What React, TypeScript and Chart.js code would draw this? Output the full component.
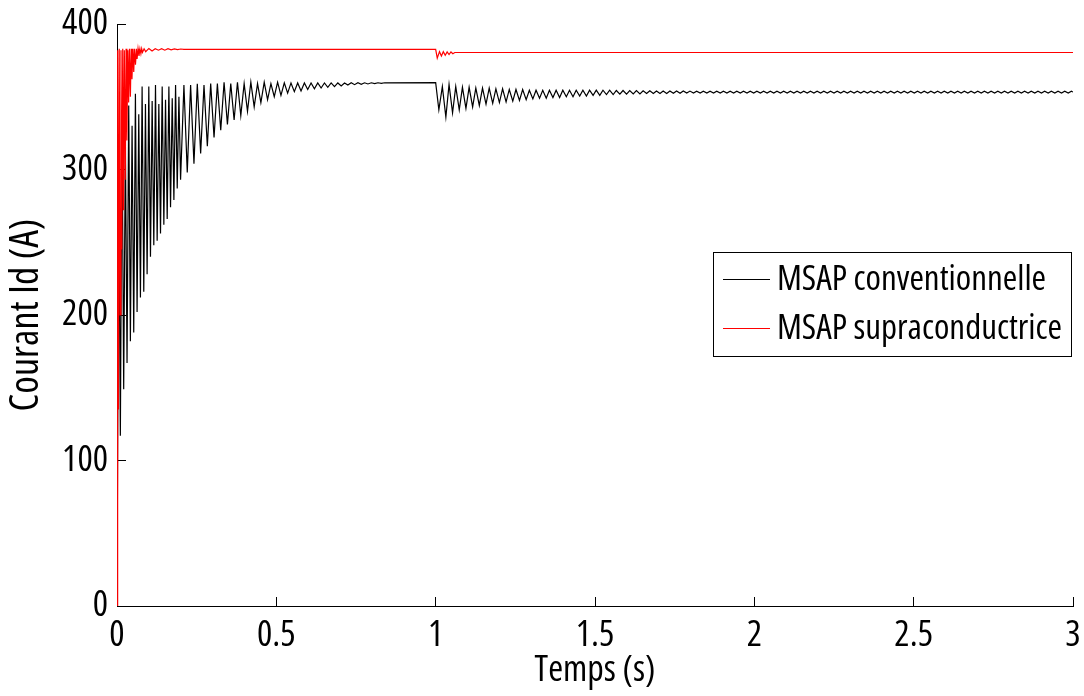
import React, { useEffect, useRef } from "react";
import { Chart, registerables } from "chart.js";

Chart.register(...registerables);

const FONT = "'Open Sans', 'DejaVu Sans Condensed', sans-serif";
const STRETCH = "normal condensed";

const seriesLabels = ["MSAP conventionnelle", "MSAP supraconductrice"];
const seriesColors = ["#000000", "#ff0000"];
const xTickValues = [0, 0.5, 1, 1.5, 2, 2.5, 3];
const yTickValues = [0, 100, 200, 300, 400];
const xTitle = "Temps (s)";
const yTitle = "Courant Id (A)";

// Conventional PMSM, [time s, Id A]
const blackStartup: [number, number][] = [
  [0, 0], [0.0053, 300], [0.0105, 117], [0.0158, 335], [0.021, 149], [0.0263, 320], [0.0315, 167],
  [0.0368, 344], [0.042, 182], [0.0473, 330], [0.0525, 188], [0.0578, 352], [0.063, 202], [0.0683, 338],
  [0.0735, 212], [0.0788, 357], [0.084, 216], [0.0893, 345], [0.0945, 228], [0.0998, 357], [0.105, 240],
  [0.1103, 347], [0.1155, 248], [0.1208, 358], [0.126, 251], [0.1313, 345], [0.1365, 256], [0.1418, 357],
  [0.147, 262], [0.1523, 348], [0.1575, 266], [0.1628, 357], [0.168, 274], [0.1733, 349], [0.1785, 279],
  [0.1838, 358], [0.189, 287], [0.1943, 350], [0.1995, 293],
];
const blackSettling: [number, number][] = [
  [0.21, 358], [0.2205, 298], [0.231, 358], [0.2415, 304], [0.252, 359], [0.2625, 311], [0.273, 358],
  [0.2835, 316], [0.294, 359], [0.3045, 322], [0.315, 359], [0.3255, 327], [0.336, 360], [0.3465, 331],
  [0.357, 359], [0.3675, 334], [0.378, 360], [0.3885, 337], [0.399, 359], [0.4095, 340], [0.42, 360],
  [0.4305, 343], [0.441, 359], [0.4515, 346], [0.462, 360], [0.4725, 348], [0.483, 359], [0.4935, 350],
  [0.504, 360], [0.5145, 351], [0.525, 359.5], [0.5355, 352.5], [0.546, 359.5], [0.5565, 353.5],
  [0.567, 359.5], [0.5775, 354], [0.588, 359.5], [0.5985, 355], [0.609, 359.5], [0.6195, 355.5],
  [0.63, 359.5], [0.6405, 356], [0.651, 359.5], [0.6615, 356.5], [0.672, 359.5], [0.6825, 357],
  [0.693, 359.5], [0.7035, 357.5], [0.714, 359.5], [0.7245, 358], [0.735, 359.6], [0.7455, 358.3],
  [0.756, 359.6], [0.7665, 358.6], [0.777, 359.6], [0.7875, 358.8], [0.798, 359.6], [0.8085, 359],
  [0.819, 359.6], [0.8295, 359.2], [0.84, 359.6], [1.0, 359.7],
];
const blackLoadStep: [number, number][] = [
  [1.01, 341], [1.021, 357], [1.032, 336], [1.042, 358.5], [1.053, 339], [1.063, 357], [1.074, 341],
  [1.084, 356.5], [1.095, 342], [1.105, 356.5], [1.116, 343], [1.126, 356], [1.137, 344], [1.147, 356],
  [1.158, 345], [1.168, 356], [1.179, 345.5], [1.189, 355.5], [1.2, 346], [1.21, 355.5], [1.221, 346.5],
  [1.231, 355], [1.242, 347], [1.252, 355], [1.263, 347.5], [1.273, 355], [1.284, 348], [1.294, 354.5],
  [1.305, 348.5], [1.315, 354.5], [1.326, 349], [1.336, 354.5], [1.347, 349], [1.357, 354.5],
  [1.368, 349.5], [1.378, 354.5], [1.389, 349.5], [1.399, 354.5], [1.41, 350], [1.42, 354.5],
  [1.431, 350], [1.441, 354.5], [1.452, 350.5], [1.462, 354.5], [1.473, 350.5], [1.483, 354.5],
  [1.494, 351], [1.504, 354.5], [1.515, 351], [1.525, 354.5], [1.536, 351.5], [1.546, 354.5],
  [1.557, 351.5], [1.567, 354.3], [1.578, 351.8], [1.588, 354.3], [1.599, 351.8], [1.609, 354.2],
  [1.62, 352], [1.63, 354.2], [1.641, 352], [1.651, 354.1], [1.662, 352.2], [1.672, 354.1],
  [1.683, 352.2], [1.693, 354], [1.704, 352.3], [1.714, 354], [1.725, 352.3], [1.735, 354],
  [1.746, 352.4], [1.756, 354], [1.767, 352.4], [1.777, 354], [1.788, 352.5], [1.798, 353.9],
];
const blackSteady: [number, number][] = [
  [1.809, 352.6], [1.819, 353.8], [1.83, 352.6], [1.84, 353.8], [1.851, 352.6], [1.861, 353.8],
  [1.872, 352.6], [1.882, 353.8], [1.893, 352.6], [1.903, 353.8], [1.914, 352.6], [1.924, 353.8],
  [1.935, 352.6], [1.945, 353.8], [1.956, 352.6], [1.966, 353.8], [1.977, 352.6], [1.987, 353.8],
  [1.998, 352.6], [2.008, 353.8], [2.019, 352.6], [2.029, 353.8], [2.04, 352.6], [2.05, 353.8],
  [2.061, 352.6], [2.071, 353.8], [2.082, 352.6], [2.092, 353.8], [2.103, 352.6], [2.113, 353.8],
  [2.124, 352.6], [2.134, 353.8], [2.145, 352.6], [2.155, 353.8], [2.166, 352.6], [2.176, 353.8],
  [2.187, 352.6], [2.197, 353.8], [2.208, 352.6], [2.218, 353.8], [2.229, 352.6], [2.239, 353.8],
  [2.25, 352.6], [2.26, 353.8], [2.271, 352.6], [2.281, 353.8], [2.292, 352.6], [2.302, 353.8],
  [2.313, 352.6], [2.323, 353.8], [2.334, 352.6], [2.344, 353.8], [2.355, 352.6], [2.365, 353.8],
  [2.376, 352.6], [2.386, 353.8], [2.397, 352.6], [2.407, 353.8], [2.418, 352.6], [2.428, 353.8],
  [2.439, 352.6], [2.449, 353.8], [2.46, 352.6], [2.47, 353.8], [2.481, 352.6], [2.491, 353.8],
  [2.502, 352.6], [2.512, 353.8], [2.523, 352.6], [2.533, 353.8], [2.544, 352.6], [2.554, 353.8],
  [2.565, 352.6], [2.575, 353.8], [2.586, 352.6], [2.596, 353.8], [2.607, 352.6], [2.617, 353.8],
  [2.628, 352.6], [2.638, 353.8], [2.649, 352.6], [2.659, 353.8], [2.67, 352.6], [2.68, 353.8],
  [2.691, 352.6], [2.701, 353.8], [2.712, 352.6], [2.722, 353.8], [2.733, 352.6], [2.743, 353.8],
  [2.754, 352.6], [2.764, 353.8], [2.775, 352.6], [2.785, 353.8], [2.796, 352.6], [2.806, 353.8],
  [2.817, 352.6], [2.827, 353.8], [2.838, 352.6], [2.848, 353.8], [2.859, 352.6], [2.869, 353.8],
  [2.88, 352.6], [2.89, 353.8], [2.901, 352.6], [2.911, 353.8], [2.922, 352.6], [2.932, 353.8],
  [2.943, 352.6], [2.953, 353.8], [2.964, 352.6], [2.974, 353.8], [2.985, 352.6], [2.995, 353.8],
  [3.0, 353.2],
];

// Superconducting PMSM, [time s, Id A]
const redStartup: [number, number][] = [
  [0, 0], [0.002, 382], [0.0045, 135], [0.007, 383], [0.0098, 200], [0.0125, 382], [0.015, 245],
  [0.018, 383], [0.0205, 272], [0.023, 382], [0.026, 293], [0.0285, 383], [0.031, 320], [0.034, 382],
  [0.0365, 346], [0.039, 383], [0.042, 350], [0.0445, 383], [0.047, 362], [0.05, 383], [0.0525, 367],
  [0.055, 383], [0.058, 372], [0.061, 383], [0.063, 376], [0.066, 383], [0.069, 378], [0.072, 383],
  [0.075, 379.5], [0.0775, 383], [0.08, 380.5], [0.085, 383], [0.09, 381], [0.1, 383.2], [0.11, 381.5],
  [0.12, 383], [0.13, 382], [0.14, 383], [0.15, 382], [0.16, 383], [0.17, 382.3], [0.18, 382.9],
  [0.19, 382.4], [0.2, 382.8], [0.21, 382.5], [0.22, 382.6],
];
const redSteady: [number, number][] = [[0.5, 382.6], [1.0, 382.6]];
const redLoadStep: [number, number][] = [
  [1.005, 376.5], [1.012, 381], [1.018, 378], [1.024, 381], [1.03, 378.5], [1.036, 380.8], [1.042, 379],
  [1.048, 380.8], [1.054, 379.6], [1.06, 380.4], [2.0, 380.4], [3.0, 380.4],
];

const toPoints = (rows: [number, number][]) => rows.map(([x, y]) => ({ x, y }));

// make every font assignment on the chart's context condensed
function condense(ctx: any) {
  const desc = Object.getOwnPropertyDescriptor(CanvasRenderingContext2D.prototype, "font");
  if (!desc || !desc.set || !desc.get) return;
  Object.defineProperty(ctx, "font", {
    configurable: true,
    get() {
      return desc.get!.call(this);
    },
    set(v: string) {
      desc.set!.call(this, v);
      try {
        (this as any).fontStretch = "condensed";
      } catch (e) {}
    },
  });
}

const boxLegend = {
  id: "boxLegend",
  afterDraw(chart: any) {
    const ctx = chart.ctx as CanvasRenderingContext2D;
    const x0 = 713, y0 = 252, w = 358, h = 104;
    ctx.save();
    ctx.fillStyle = "#ffffff";
    ctx.fillRect(x0, y0, w, h);
    ctx.strokeStyle = "#000000";
    ctx.lineWidth = 1;
    ctx.strokeRect(x0 + 0.5, y0 + 0.5, w, h);
    ctx.font = `${STRETCH} 35px ${FONT}`;
    ctx.textBaseline = "middle";
    ctx.textAlign = "left";
    chart.data.datasets.forEach((ds: any, i: number) => {
      const yy = y0 + 27 + i * 49;
      ctx.strokeStyle = ds.borderColor;
      ctx.lineWidth = 1;
      ctx.beginPath();
      ctx.moveTo(x0 + 10, yy + 0.5);
      ctx.lineTo(x0 + 57, yy + 0.5);
      ctx.stroke();
      ctx.fillStyle = "#000000";
      ctx.fillText(ds.label, x0 + 64, yy + 1);
    });
    ctx.restore();
  },
};

export default function App() {
  const ref = useRef<HTMLCanvasElement | null>(null);
  useEffect(() => {
    if (!ref.current) return;
    const ctx = ref.current.getContext("2d");
    if (ctx) condense(ctx);
    const tickFont = { family: FONT, size: 36, weight: STRETCH as any };
    const yTitleFont = { family: FONT, size: 40, weight: STRETCH as any };
    const zeroPad = (s: any) => {
      s.paddingTop = 0;
      s.paddingBottom = 0;
      s.paddingLeft = 0;
      s.paddingRight = 0;
    };
    const chart = new Chart(ref.current, {
      type: "line",
      data: {
        datasets: [
          {
            label: seriesLabels[0],
            data: toPoints([...blackStartup, ...blackSettling, ...blackLoadStep, ...blackSteady]),
            borderColor: seriesColors[0],
            borderWidth: 1.2,
            pointRadius: 0,
            order: 1,
          },
          {
            label: seriesLabels[1],
            data: toPoints([...redStartup, ...redSteady, ...redLoadStep]),
            borderColor: seriesColors[1],
            borderWidth: 1.2,
            pointRadius: 0,
            order: 0,
          },
        ],
      },
      options: {
        animation: false,
        responsive: false,
        parsing: false,
        normalized: true,
        layout: { padding: { top: 24, right: 11, left: 0, bottom: 0 } },
        plugins: { legend: { display: false }, tooltip: { enabled: false } },
        elements: { line: { tension: 0 }, point: { radius: 0 } },
        scales: {
          x: {
            type: "linear",
            min: 0,
            max: 3,
            afterBuildTicks: (s: any) => {
              s.ticks = xTickValues.map((v) => ({ value: v }));
            },
            afterFit: (s: any) => {
              s.height = 90;
              zeroPad(s);
            },
            grid: { drawOnChartArea: false, drawTicks: true, tickLength: -9, color: "#000000" },
            border: { display: true, color: "#000000", width: 1 },
            ticks: {
              font: tickFont,
              color: "#000000",
              padding: 17,
              maxRotation: 0,
              autoSkip: false,
              callback: (v: any) => String(v),
            },
            title: {
              display: true,
              text: xTitle,
              font: tickFont,
              color: "#000000",
              padding: { top: 0, bottom: 4 },
            },
          },
          y: {
            type: "linear",
            min: 0,
            max: 400,
            afterBuildTicks: (s: any) => {
              s.ticks = yTickValues.map((v) => ({ value: v }));
            },
            afterFit: (s: any) => {
              s.width = 117;
              zeroPad(s);
            },
            grid: { drawOnChartArea: false, drawTicks: true, tickLength: -9, color: "#000000" },
            border: { display: true, color: "#000000", width: 1 },
            ticks: {
              font: tickFont,
              color: "#000000",
              padding: 18,
              autoSkip: false,
              callback: (v: any) => String(v),
            },
            title: {
              display: true,
              text: yTitle,
              font: yTitleFont,
              color: "#000000",
              padding: { top: 3, bottom: 0 },
            },
          },
        },
      },
      plugins: [boxLegend],
    });
    return () => chart.destroy();
  }, []);
  return (
    <div style={{ position: "absolute", left: 0, top: 0, width: 1084, height: 696, background: "#ffffff" }}>
      <canvas ref={ref} width={1084} height={696} style={{ width: 1084, height: 696, display: "block" }} />
    </div>
  );
}
